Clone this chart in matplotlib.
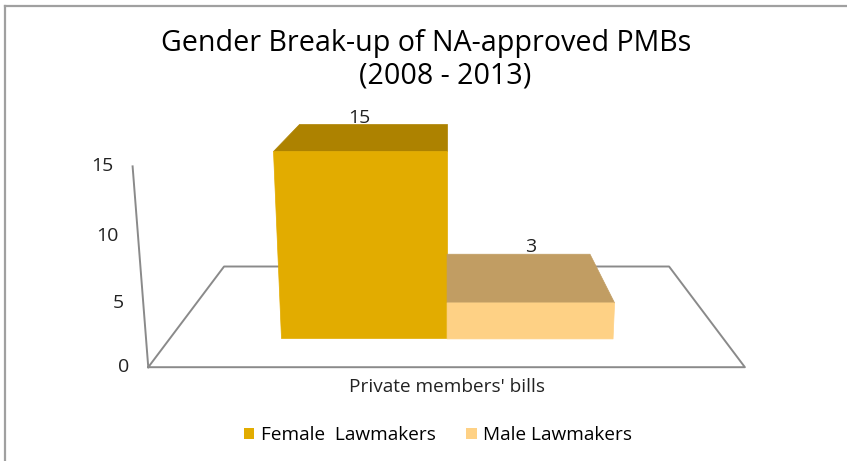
import matplotlib
matplotlib.use('Agg')
import matplotlib.pyplot as plt
from matplotlib.lines import Line2D
from matplotlib.patches import Patch
from mpl_toolkits.mplot3d.art3d import Poly3DCollection
from mpl_toolkits.mplot3d import proj3d

plt.rcParams['font.family'] = ['Open Sans', 'DejaVu Sans']

# NA-approved private members' bills by gender (2008 - 2013)
category = "Private members' bills"
groups = ['Female  Lawmakers', 'Male Lawmakers']
bills = [15, 3]
yticks = [0, 5, 10, 15]

# styling
front_colors = ['#E2AC00', '#FED185']
top_colors = ['#AD8200', '#C19D63']
line_color = '#8A8A8A'
bar_left, bar_width = 0.2, 0.3      # along the floor width
bar_front, bar_back = 0.23, 0.77    # along the floor depth

fig = plt.figure(figsize=(8.47, 4.61), dpi=100)
ax = fig.add_axes([0.0907, -0.2900, 0.8501, 1.5618], projection='3d',
                  proj_type='persp', focal_length=0.258,
                  computed_zorder=False)
ax.view_init(elev=14.2, azim=-90)
ax.set_xlim(0, 1)
ax.set_ylim(0, 1)
ax.set_zlim(0, max(yticks))
ax.set_box_aspect((602, 356, 206), zoom=0.8506)
ax.set_axis_off()

# floor outline and value axis
ax.plot([0, 1, 1, 0, 0], [0, 0, 1, 1, 0], [0, 0, 0, 0, 0],
        color=line_color, lw=1.4, zorder=1)
ax.plot([0, 0], [0, 0], [0, max(yticks)], color=line_color, lw=1.4, zorder=1)

# bars, drawn back to front
for i in reversed(range(len(bills))):
    x0 = bar_left + i * bar_width
    x1 = x0 + bar_width
    h = bills[i]
    top = [(x0, bar_front, h), (x1, bar_front, h), (x1, bar_back, h), (x0, bar_back, h)]
    front = [(x0, bar_front, 0), (x1, bar_front, 0), (x1, bar_front, h), (x0, bar_front, h)]
    ax.add_collection3d(Poly3DCollection([top], facecolor=top_colors[i],
                                         edgecolor=top_colors[i], lw=0.5, zorder=3 + 2 * i))
    ax.add_collection3d(Poly3DCollection([front], facecolor=front_colors[i],
                                         edgecolor=front_colors[i], lw=0.5, zorder=4 + 2 * i))

M = ax.get_proj()

# tick labels next to the value axis
for t in yticks:
    px, py, _ = proj3d.proj_transform(0, 0, t, M)
    ax.annotate(str(t), (px, py), xytext=(-14, 0), textcoords='offset points',
                ha='right', va='center', fontsize=14, color='#222222',
                annotation_clip=False)

# value labels above each bar
for i, v in enumerate(bills):
    xc = bar_left + (i + 0.5) * bar_width
    fx, _, _ = proj3d.proj_transform(xc, bar_front, v, M)
    _, by, _ = proj3d.proj_transform(xc, bar_back, v, M)
    ax.annotate(str(v), (fx, by), xytext=(0, 1), textcoords='offset points',
                ha='center', va='baseline', fontsize=14, color='#222222',
                annotation_clip=False)

fig.text(426.5 / 847, 1 - 43 / 461, 'Gender Break-up of NA-approved PMBs',
         ha='center', va='center', fontsize=20.6)
fig.text(445.5 / 847, 1 - 76 / 461, '(2008 - 2013)',
         ha='center', va='center', fontsize=20.6)
fig.text(446.5 / 847, 1 - 387 / 461, category, ha='center', va='center',
         fontsize=13.7, color='#222222')

handles = [Patch(facecolor=c, edgecolor='none') for c in front_colors]
fig.legend(handles, groups, loc='center', bbox_to_anchor=(438 / 847, 1 - 435 / 461),
           ncol=2, frameon=False, handlelength=0.53, handleheight=0.53,
           handletextpad=0.32, columnspacing=1.63, fontsize=13.7)

# chart frame
border = dict(color='#A0A0A0', lw=1.6, transform=fig.transFigure)
fig.add_artist(Line2D([5 / 847, 5 / 847], [0, 1 - 6 / 461], **border))
fig.add_artist(Line2D([5 / 847, 1], [1 - 6 / 461, 1 - 6 / 461], **border))

fig.savefig('out.png', dpi=100)
